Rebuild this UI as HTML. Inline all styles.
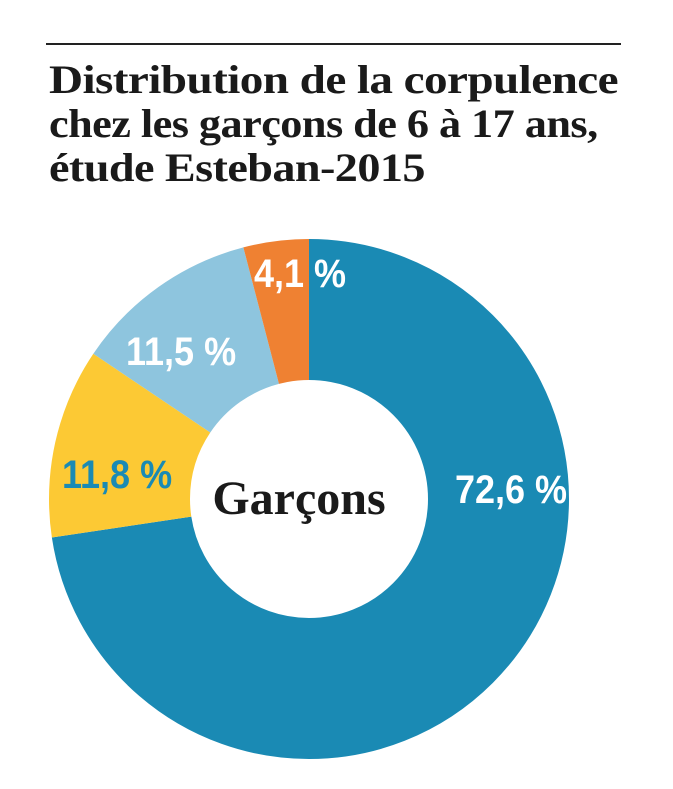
<!DOCTYPE html>
<html><head><meta charset="utf-8"><style>
html,body{margin:0;padding:0;background:#fff;}
body{width:673px;height:789px;position:relative;overflow:hidden;}
.rule{position:absolute;left:46px;top:43px;width:575px;height:2px;background:#222;}
.t{position:absolute;left:49px;margin:0;font-family:"Liberation Serif",serif;font-weight:bold;font-size:40px;line-height:44px;color:#1a1a1a;letter-spacing:-0.5px;transform-origin:0 0;white-space:nowrap;}
</style></head><body>
<div class="rule"></div>
<div class="t" style="top:58px;transform:scaleX(1.18)">Distribution de la corpulence</div>
<div class="t" style="top:102px;transform:scaleX(1.107)">chez les garçons de 6 à 17 ans,</div>
<div class="t" style="top:146px;transform:scaleX(1.155)">étude Esteban-2015</div>
<svg width="673" height="789" style="position:absolute;left:0;top:0">
<g transform="rotate(-90 309 499)" fill="none" stroke-width="141">
<circle cx="309" cy="499" r="189.5" stroke="#1a8ab4" stroke-dasharray="864.4 2000"/>
<circle cx="309" cy="499" r="189.5" stroke="#fcc934" stroke-dasharray="140.5 2000" stroke-dashoffset="-864.4"/>
<circle cx="309" cy="499" r="189.5" stroke="#8ec5de" stroke-dasharray="136.9 2000" stroke-dashoffset="-1004.9"/>
<circle cx="309" cy="499" r="189.5" stroke="#ef8132" stroke-dasharray="48.9 2000" stroke-dashoffset="-1141.8"/>
</g>
<g font-family="Liberation Sans, sans-serif" font-weight="bold" font-size="40">
<text transform="translate(455 503) scale(0.9 1)" fill="#fff">72,6 %</text>
<text transform="translate(62 488) scale(0.9 1)" fill="#1a8ab4">11,8 %</text>
<text transform="translate(126 365) scale(0.9 1)" fill="#fff">11,5 %</text>
<text transform="translate(254 287) scale(0.9 1)" fill="#fff">4,1 %</text>
</g>
<text x="299" y="514" text-anchor="middle" font-family="Liberation Serif, serif" font-weight="bold" font-size="48" fill="#1a1a1a">Garçons</text>
</svg>
</body></html>
